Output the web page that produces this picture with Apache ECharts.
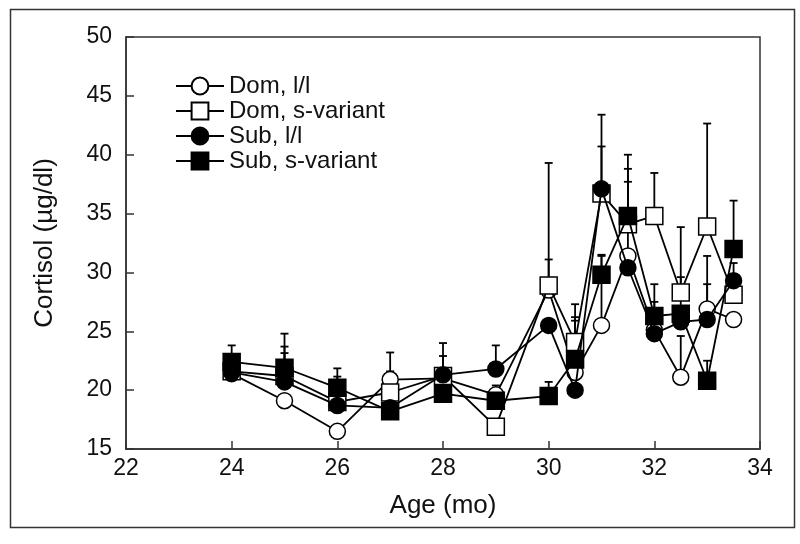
<!DOCTYPE html>
<html>
<head>
<meta charset="utf-8">
<script src="https://cdn.jsdelivr.net/npm/echarts@6/dist/echarts.min.js"></script>
<style>html,body{margin:0;padding:0;background:#fff}#c{width:800px;height:544px}</style>
</head>
<body>
<div id="c"></div>
<script>
// Age (months)
const ages = [24, 25, 26, 27, 28, 29, 30, 30.5, 31, 31.5, 32, 32.5, 33, 33.5];
const seriesNames = ['Dom, l/l', 'Dom, s-variant', 'Sub, l/l', 'Sub, s-variant'];
// Mean cortisol (µg/dl)
const domLL  = [21.4, 19.1, 16.5, 20.9, 21.0, 19.6, 28.5, 21.5, 25.5, 31.4, 25.1, 21.1, 26.9, 26.0];
const domS   = [21.6, 21.2, 19.0, 19.8, 21.2, 16.9, 28.9, 24.1, 36.7, 34.1, 34.8, 28.3, 33.9, 28.1];
const subLL  = [21.5, 20.7, 18.7, 18.5, 21.3, 21.8, 25.5, 20.0, 37.1, 30.4, 24.8, 25.8, 26.0, 29.3];
const subS   = [22.4, 21.9, 20.2, 18.2, 19.7, 19.1, 19.5, 22.6, 29.8, 34.8, 26.3, 26.5, 20.8, 32.0];
// Upper error bar ends (mean + SEM); null = not visible
const domLLHi = [null, null, null, 23.2, null, 20.4, 31.1, 25.9, 31.5, 37.7, 27.5, 24.6, 31.4, null];
const domSHi  = [null, 24.8, 21.15, 21.6, 22.9, null, 39.3, 27.3, 43.4, 40.0, 38.45, 33.85, 42.65, null];
const subLLHi = [null, 23.15, null, null, 24.0, 23.8, null, null, 40.7, null, null, null, 29.0, 30.8];
const subSHi  = [23.8, 23.7, 21.85, null, null, null, 20.7, 26.2, 31.4, 38.8, 29.0, 29.6, 22.5, 36.1];
// Axis ticks
const xMin = 22, xMax = 34, xStep = 2;
const yMin = 15, yMax = 50, yStep = 5;

const FONT = 'Liberation Sans, Arial, Helvetica, sans-serif';
const means = [domLL, domS, subLL, subS];
const highs = [domLLHi, domSHi, subLLHi, subSHi];
const styles = [
  {symbol: 'circle', size: 16, fill: '#fff'},
  {symbol: 'rect', size: 17, fill: '#fff'},
  {symbol: 'circle', size: 16, fill: '#000'},
  {symbol: 'rect', size: 17, fill: '#000'}
];

function errSeries(i) {
  const data = [];
  ages.forEach((a, k) => {
    if (highs[i][k] != null) data.push([a, means[i][k], highs[i][k]]);
  });
  return {
    type: 'custom',
    name: 'err' + i,
    z: 1,
    silent: true,
    encode: {x: 0, y: [1, 2]},
    data: data,
    renderItem: function (params, api) {
      const x = api.value(0);
      const lo = api.coord([x, api.value(1)]);
      const hi = api.coord([x, api.value(2)]);
      const cw = 4;
      return {
        type: 'group',
        children: [
          {type: 'line', shape: {x1: lo[0], y1: lo[1], x2: hi[0], y2: hi[1]}, style: {stroke: '#000', lineWidth: 1.8}},
          {type: 'line', shape: {x1: hi[0] - cw, y1: hi[1], x2: hi[0] + cw, y2: hi[1]}, style: {stroke: '#000', lineWidth: 1.8}}
        ]
      };
    }
  };
}

const series = [];
for (let i = 0; i < 4; i++) series.push(errSeries(i));
for (let i = 0; i < 4; i++) {
  series.push({
    type: 'line',
    name: seriesNames[i],
    z: 2 + i,
    data: ages.map((a, k) => [a, means[i][k]]),
    symbol: styles[i].symbol,
    symbolSize: styles[i].size,
    showAllSymbol: true,
    lineStyle: {color: '#000', width: 1.8},
    itemStyle: {color: styles[i].fill, borderColor: '#000', borderWidth: 1.5, opacity: 1},
    emphasis: {disabled: true},
    animation: false
  });
}

const chart = echarts.init(document.getElementById('c'), null, {renderer: 'canvas'});
chart.setOption({
  animation: false,
  backgroundColor: '#fff',
  graphic: [{
    type: 'rect', left: 8, top: 7, z: -1,
    shape: {width: 784, height: 518},
    style: {fill: 'none', stroke: '#333', lineWidth: 1.5}
  }],
  grid: {left: 126, right: 40, top: 37, bottom: 95, show: true, borderColor: '#333', borderWidth: 1.5, backgroundColor: 'transparent'},
  legend: {
    data: seriesNames,
    orient: 'vertical',
    left: 170, top: 69,
    itemWidth: 48, itemHeight: 21, itemGap: 1,
    textStyle: {fontFamily: FONT, fontSize: 24, color: '#111', lineHeight: 24},
    selectedMode: false
  },
  xAxis: {
    type: 'value', min: xMin, max: xMax, interval: xStep,
    name: 'Age (mo)', nameLocation: 'middle', nameGap: 44,
    nameTextStyle: {fontFamily: FONT, fontSize: 26, color: '#111'},
    axisLine: {lineStyle: {color: '#333', width: 1.5}},
    axisTick: {inside: true, length: 8, lineStyle: {color: '#333', width: 1.5}},
    axisLabel: {fontFamily: FONT, fontSize: 23, color: '#111', margin: 8, showMinLabel: true, showMaxLabel: true},
    splitLine: {show: false}
  },
  yAxis: {
    type: 'value', min: yMin, max: yMax, interval: yStep,
    name: 'Cortisol (µg/dl)', nameLocation: 'middle', nameGap: 68,
    nameTextStyle: {fontFamily: FONT, fontSize: 26, color: '#111'},
    axisLine: {show: true, lineStyle: {color: '#333', width: 1.5}},
    axisTick: {show: true, inside: true, length: 8, lineStyle: {color: '#333', width: 1.5}},
    axisLabel: {fontFamily: FONT, fontSize: 23, color: '#111', margin: 14, showMinLabel: true, showMaxLabel: true},
    splitLine: {show: false}
  },
  series: series
});
</script>
</body>
</html>
